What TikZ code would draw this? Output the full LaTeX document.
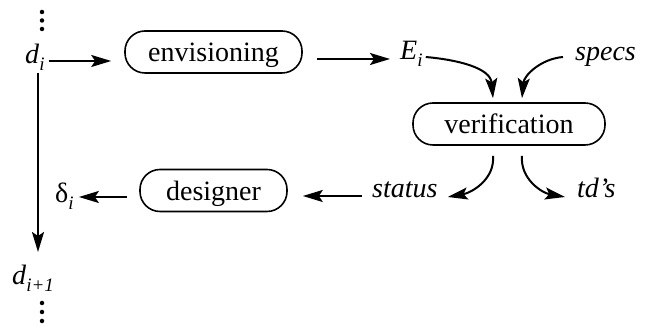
\documentclass[tikz,border=0pt]{standalone}
\usepackage{fontspec}
\setmainfont{Liberation Serif}
\usetikzlibrary{arrows.meta}
\newcommand\subsc[1]{\raisebox{-0.24em}{\fontsize{19}{20}\selectfont\textit{#1}}}
\begin{document}
\begin{tikzpicture}[x=1pt,y=1pt,
  every node/.style={font=\rmfamily\fontsize{28}{32}\selectfont},
  procbox/.style={draw,line width=1.6pt,rounded corners=20pt,inner sep=0pt,
    text height=20pt,text depth=0pt,minimum height=42pt},
  lbl/.style={anchor=base west,inner sep=0pt},
  arr/.style={line width=2pt,-{Stealth[length=20pt,width=12pt,inset=4pt]}},
  dotc/.style={fill=black,inner sep=0pt,minimum size=4.5pt,circle}]
\useasboundingbox (0,0) rectangle (651,328);
% boxes
\node[procbox,minimum width=177pt] (envis) at (213.5,276) {envisioning};
\node[procbox,minimum width=192pt] (verif) at (509,204) {verification};
\node[procbox,minimum width=147pt] (design) at (213.5,137.5) {designer};
% labels
\node[lbl] (di) at (25,264) {\textit{d}\subsc{i}};
\node[lbl] (Ei) at (400,268) {\textit{E}\subsc{i}};
\node[lbl] (specs) at (575,267) {\textit{specs}};
\node[lbl] (status) at (372,130) {\textit{status}};
\node[lbl] (tds) at (577,130) {\textit{td’s}};
\node[lbl] (delta) at (55,125) {δ\subsc{i}};
\node[lbl] (dnext) at (12,43) {\textit{d}\subsc{i+1}};
% dots
\node[dotc] (t1) at (42,316) {};
\node[dotc] (t2) at (42,307.5) {};
\node[dotc] (t3) at (42,299) {};
\node[dotc] (b1) at (42,25) {};
\node[dotc] (b2) at (42,16) {};
\node[dotc] (b3) at (42,7) {};
% connectors
\draw[arr] ([xshift=4pt,yshift=3pt]di.base east) -- ([xshift=-13pt,yshift=-9pt]envis.west);
\draw[arr] ([xshift=14pt,yshift=-7pt]envis.east) -- ([xshift=-10pt,yshift=1pt]Ei.base west);
\draw[arr] ([xshift=3pt,yshift=3pt]Ei.base east) to[out=-5,in=95] ([xshift=-16pt,yshift=4pt]verif.north);
\draw[arr] ([xshift=-12pt,yshift=4pt]specs.base west) to[out=185,in=85] ([xshift=13pt,yshift=4pt]verif.north);
\draw[arr] ([xshift=-16pt,yshift=-10pt]verif.south) to[out=-85,in=10] ([xshift=10pt,yshift=1pt]status.base east);
\draw[arr] ([xshift=13pt,yshift=-10pt]verif.south) to[out=-95,in=170] ([xshift=-12pt,yshift=1pt]tds.base west);
\draw[arr] ([xshift=-10pt,yshift=2pt]status.base west) -- ([xshift=15pt,yshift=-5.5pt]design.east);
\draw[arr] ([xshift=-12pt,yshift=-6.5pt]design.west) -- ([xshift=5pt,yshift=6pt]delta.base east);
\draw[arr] ([xshift=13pt,yshift=-9pt]di.base west) -- ([xshift=26pt,yshift=33pt]dnext.base west);
\end{tikzpicture}
\end{document}
